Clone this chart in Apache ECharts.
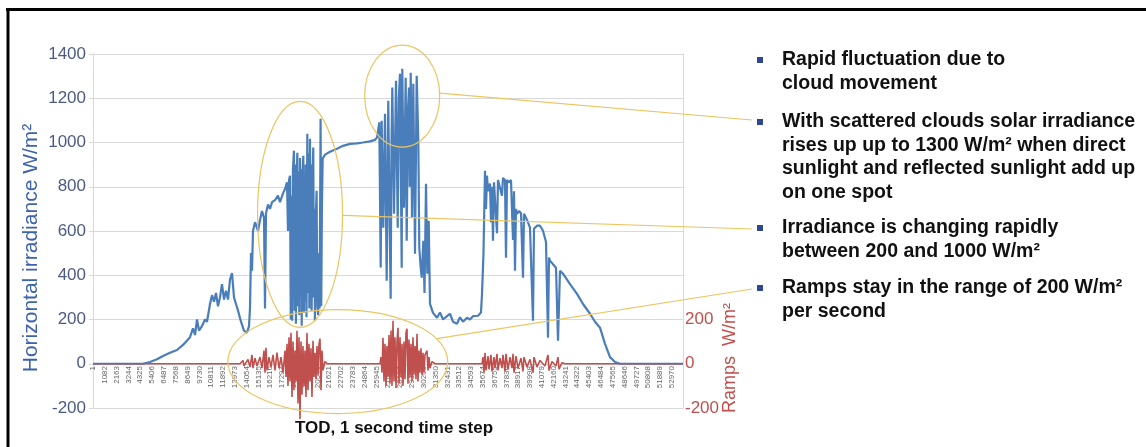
<!DOCTYPE html>
<html>
<head>
<meta charset="utf-8">
<script src="https://cdn.jsdelivr.net/npm/echarts@6/dist/echarts.min.js"></script>
<style>
html,body{margin:0;padding:0;background:#fff;}
#c{width:1146px;height:447px;}
</style>
</head>
<body>
<div id="c"></div>
<script>
// ---- data ----
const xTickStep = 1081;
const xTickLabels = ['1','1082','2163','3244','4325','5406','6487','7568','8649','9730','10811','11892','12973','14054','15135','16216','17297','18378','19459','20540','21621','22702','23783','24864','25945','27026','28107','29188','30269','31350','32431','33512','34593','35674','36755','37836','38917','39998','41079','42160','43241','44322','45403','46484','47565','48646','49727','50808','51889','52970'];
const leftTicks = [-200,0,200,400,600,800,1000,1200,1400];
const rightTickLabels = [-200,0,200];

// Horizontal irradiance [time step, W/m²]
const irradiance = [
[0,0],[4576,0],[5217,8],[5858,20],[6407,35],[7047,50],[7688,62],[8237,85],[8695,110],[8878,120],
[9153,160],[9336,130],[9519,200],[9702,150],[9976,170],[10251,200],[10434,190],[10708,270],[10891,310],[11075,280],
[11258,320],[11441,260],[11624,300],[11807,360],[11990,290],[12173,330],[12356,290],[12539,380],[12722,410],[12905,300],
[13088,270],[13271,240],[13546,190],[13820,150],[14095,140],[14278,170],[14369,250],[14461,500],[14552,420],[14644,600],
[14827,640],[15102,600],[15285,650],[15468,690],[15651,660],[15742,250],[15834,680],[16017,720],[16200,700],[16383,730],
[16658,740],[16932,760],[17115,730],[17390,770],[17573,790],[17756,820],[17847,600],[17939,830],
[18030,850],[18100,200],[18170,760],[18230,194],[18300,880],[18395,963],[18450,240],[18510,900],[18575,181],[18640,820],
[18700,954],[18760,260],[18820,870],[18880,220],[18945,930],[19010,300],[19070,880],[19100,172],[19170,850],[19250,940],
[19310,230],[19360,780],[19400,280],[19465,900],[19540,210],[19615,1040],[19680,320],[19740,950],[19800,250],[19860,1017],
[19920,400],[19970,900],[20010,240],[20090,820],[20160,977],[20220,300],[20270,700],[20310,194],[20385,650],[20465,782],
[20530,260],[20610,220],[20680,500],[20740,250],[20830,1107],[20890,260],[20950,700],[21020,927],
[21234,945],[21691,958],[22332,972],[22881,985],[23522,994],[24163,996],[24712,1000],[25352,1005],[25810,1012],[25993,1022],
[26204,1091],[26330,435],[26420,1098],[26570,615],[26725,1130],[26880,375],[27025,1189],[27135,700],[27245,294],[27320,1000],
[27395,1248],[27550,678],[27733,1279],[27889,615],[27990,1200],[28097,1311],[28253,434],[28308,1333],[28463,705],[28619,1293],
[28710,556],[28830,1150],[28920,1248],[28995,800],[29078,1315],[29197,660],[29316,1266],[29472,497],[29627,1302],[29774,1008],
[29865,524],[29993,434],[30085,389],[30232,556],[30342,320],[30479,814],[30598,407],[30726,646],[30844,271],
[31119,230],[31485,208],[31760,232],[32034,200],[32400,215],[32675,226],[32949,190],[33315,181],[33590,210],[33864,190],
[34230,208],[34505,200],[34780,215],[35237,217],[35512,232],[35604,316],[35740,500],[35878,872],[35970,700],[36061,850],
[36153,780],[36336,814],[36427,640],[36519,800],[36610,556],[36702,820],[36885,827],[36976,590],[37068,830],[37251,836],
[37434,760],[37525,840],[37708,830],[37800,479],[37891,830],[38074,820],[38257,830],[38349,827],[38440,560],[38532,780],
[38623,420],[38715,700],[38806,678],[38989,690],[39173,680],[39356,389],[39447,678],[39722,650],[39996,615],[40271,194],
[40362,610],[40637,624],[40912,624],[41186,601],[41461,550],[41644,118],[41735,480],[41827,466],[42101,450],[42376,434],
[42559,104],[42742,420],[43017,407],[43658,360],[44298,316],[44847,270],[45488,226],[45946,190],[46403,163],[46861,90],
[47318,30],[47776,8],[48233,0],[54000,0]
];

// Ramps [time step, W/m² per second]
const ramps = [
[0,0],[13454,0],[13729,15],[13820,-10],[14186,20],[14369,-15],[14552,40],[14644,-20],[14827,25],[15010,-10],
[15285,30],[15468,-20],[15651,60],[15742,-40],[15834,72],[15925,-30],[16108,30],[16291,-15],[16475,40],[16658,-30],
[16841,50],[17024,-20],[17207,30],[17390,-40],[17573,60],[17665,-60],[17756,90],[17847,-100],[17939,120],[18030,-80],
[18122,140],[18213,-150],[18305,100],[18396,-120],[18488,60],[18579,-80],[18671,149],[18762,-180],[18854,120],[18945,-250],
[19037,100],[19128,-140],[19220,80],[19311,-100],[19403,60],[19494,-150],[19586,140],[19677,-120],[19769,90],[19860,-80],
[19952,70],[20043,-150],[20135,104],[20227,-60],[20318,50],[20410,-70],[20501,80],[20593,-50],[20684,90],[20776,113],
[20868,-120],[20957,60],[21049,-30],[21232,10],[21416,0],
[26268,0],[26359,30],[26451,-40],[26542,117],[26634,-80],[26725,90],[26817,-100],[26908,80],[27000,-60],[27091,130],
[27183,-90],[27274,150],[27366,-100],[27458,194],[27549,-80],[27641,120],[27732,-110],[27824,100],[27915,163],[28007,-90],
[28098,120],[28190,-60],[28281,90],[28373,-100],[28464,100],[28556,-70],[28647,140],[28739,158],[28830,-90],[28922,110],
[29013,-60],[29105,90],[29196,-80],[29288,120],[29379,-50],[29471,80],[29562,-70],[29654,136],[29745,-80],[29837,60],
[29928,-40],[30020,70],[30111,-50],[30203,50],[30294,-40],[30386,40],[30569,59],[30661,-30],[30752,30],[30843,-20],
[31027,10],[31302,0],
[35603,0],[35695,30],[35786,-40],[35878,50],[35969,-30],[36152,35],[36244,-25],[36427,40],[36518,-35],[36701,30],
[36793,-20],[36976,45],[37068,-30],[37251,25],[37434,-20],[37525,40],[37708,-35],[37800,45],[37984,-25],[38167,30],
[38350,-20],[38441,45],[38532,-40],[38715,35],[38898,-20],[39173,25],[39356,-35],[39447,30],[39722,-15],[39996,20],
[40271,-40],[40362,30],[40637,-15],[40912,15],[41369,-10],[41644,40],[41735,-30],[42011,10],[42376,-10],[42559,30],
[42651,-25],[42925,5],[43200,0],[54000,0]
];

const bulletTexts = [
  ['Rapid fluctuation due to', 'cloud movement'],
  ['With scattered clouds solar irradiance', 'rises up up to 1300 W/m\u00B2 when direct', 'sunlight and reflected sunlight add up', 'on one spot'],
  ['Irradiance is changing rapidly', 'between 200 and 1000 W/m\u00B2'],
  ['Ramps stay in the range of 200 W/m\u00B2', 'per second']
];

// ---- chart ----
const BLUE = '#4a7ebb', RED = '#c0504d', GOLD = '#ecc560', GRID = '#d9d9d9';
const FONT = '"Liberation Sans", Arial, sans-serif';
const chart = echarts.init(document.getElementById('c'), null, {renderer: 'canvas'});

chart.setOption({
  animation: false,
  backgroundColor: '#fff',
  grid: {left: 93, right: 463, top: 54, bottom: 39, containLabel: false, outerBoundsMode: 'none'},
  xAxis: {
    type: 'value', min: 0, max: 54000, interval: xTickStep,
    axisLine: {show: true, onZero: true, lineStyle: {color: GRID}},
    axisTick: {show: false},
    splitLine: {show: false},
    axisLabel: {
      rotate: 90, fontSize: 8, color: '#666', margin: -42, fontFamily: FONT,
      showMaxLabel: false,
      formatter: v => {
        const k = Math.round(v / xTickStep);
        return (Math.abs(v - k * xTickStep) < 1 && xTickLabels[k]) ? xTickLabels[k] : '';
      }
    }
  },
  yAxis: [{
    type: 'value', min: leftTicks[0], max: leftTicks[leftTicks.length - 1], interval: 200,
    axisLine: {show: true, onZero: false, lineStyle: {color: GRID}},
    axisTick: {show: true, length: 4, lineStyle: {color: GRID}},
    splitLine: {show: true, lineStyle: {color: GRID, width: 1}},
    axisLabel: {color: '#4d5a86', fontSize: 17, margin: 7, fontFamily: FONT, formatter: v => String(v)},
    name: 'Horizontal irradiance W/m\u00B2',
    nameLocation: 'middle', nameGap: 51, nameRotate: 90, nameMoveOverlap: false,
    nameTextStyle: {color: '#3d63ad', fontSize: 21, fontFamily: FONT, padding: [0, 34, 0, 0]}
  }, {
    type: 'value', position: 'right', min: -200, max: 1400, interval: 200,
    axisLine: {show: true, onZero: false, lineStyle: {color: GRID}},
    axisTick: {show: false},
    splitLine: {show: false},
    axisLabel: {
      color: RED, fontSize: 17, margin: 2, fontFamily: FONT,
      formatter: v => rightTickLabels.indexOf(v) >= 0 ? String(v) : ''
    }
  }],
  series: [{
    type: 'line', name: 'Irradiance', data: irradiance, yAxisIndex: 0,
    showSymbol: false, symbol: 'none', sampling: null,
    lineStyle: {color: BLUE, width: 2.2}, z: 3
  }, {
    type: 'line', name: 'Ramps', data: ramps, yAxisIndex: 1,
    showSymbol: false, symbol: 'none', clip: false,
    lineStyle: {color: RED, width: 1.6}, z: 4
  }]
});

// ---- annotations ----
const px = (t, v) => chart.convertToPixel({xAxisIndex: 0, yAxisIndex: 0}, [t, v]);
const e1 = px(28300, 1210), e2 = px(18950, 675), e3 = px(22400, 10);
const E1 = {rx: 37.5, ry: 51}, E2 = {rx: 42.5, ry: 113}, E3 = {rx: 110, ry: 52};
const axisMid = px(27000, -200);

const graphics = [];
// frame
graphics.push({type: 'line', shape: {x1: 6, y1: 9.5, x2: 1146, y2: 9.5}, style: {stroke: '#000', lineWidth: 3}, z: 100});
graphics.push({type: 'line', shape: {x1: 8, y1: 8, x2: 8, y2: 447}, style: {stroke: '#000', lineWidth: 3}, z: 100});
// ellipses
[[e1, E1], [e2, E2], [e3, E3]].forEach(([c, r]) => {
  graphics.push({type: 'ellipse', shape: {cx: c[0], cy: c[1], rx: r.rx, ry: r.ry},
    style: {fill: 'none', stroke: GOLD, lineWidth: 1.2}, z: 50});
});
// connectors
graphics.push({type: 'line', shape: {x1: e1[0] + E1.rx, y1: e1[1] - 3, x2: 752, y2: 120}, style: {stroke: GOLD, lineWidth: 1.2}, z: 50});
graphics.push({type: 'line', shape: {x1: e2[0] + E2.rx, y1: e2[1] + 1, x2: 752, y2: 229}, style: {stroke: GOLD, lineWidth: 1.2}, z: 50});
graphics.push({type: 'line', shape: {x1: e3[0] + 0.9 * E3.rx, y1: e3[1] - 0.44 * E3.ry, x2: 752, y2: 289}, style: {stroke: GOLD, lineWidth: 1.2}, z: 50});

// x axis title
graphics.push({type: 'text', x: axisMid[0] + 6, y: axisMid[1] + 20,
  style: {text: 'TOD, 1 second time step', fill: '#111', font: 'bold 17px ' + FONT, align: 'center', verticalAlign: 'middle'}, z: 60});

// right axis title
graphics.push({type: 'text', x: 730, y: 358, rotation: Math.PI / 2,
  style: {text: 'Ramps  W/m\u00B2', fill: RED, font: '18px ' + FONT, align: 'center', verticalAlign: 'middle'}, z: 60});

// bullet text
const blockTops = [60, 122, 228, 288];
const lineH = 23.5;
bulletTexts.forEach((lines, i) => {
  graphics.push({type: 'rect', shape: {x: 757, y: blockTops[i] - 3, width: 6, height: 6}, style: {fill: '#2e4790'}, z: 60});
  lines.forEach((t, j) => {
    graphics.push({type: 'text', x: 782, y: blockTops[i] + j * lineH,
      style: {text: t, fill: '#111', font: 'bold 19.5px ' + FONT, align: 'left', verticalAlign: 'middle'}, z: 60});
  });
});

chart.setOption({graphic: {elements: graphics}});
</script>
</body>
</html>
